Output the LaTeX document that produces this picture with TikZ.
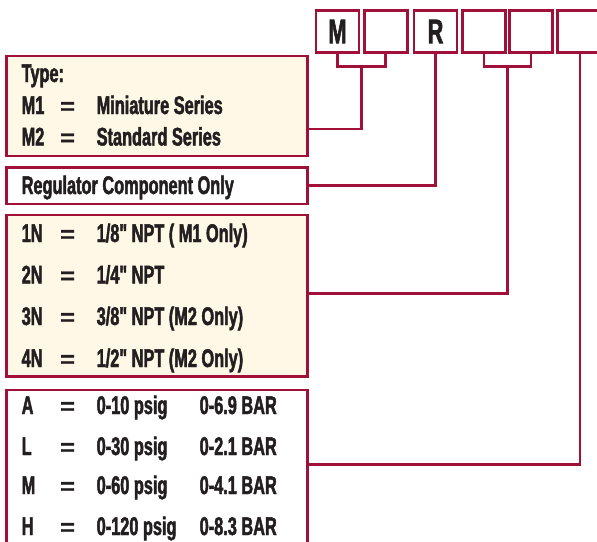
\documentclass[tikz,border=0pt]{standalone}
\usepackage{fontspec}
\setmainfont{Liberation Sans}[FakeStretch=0.64,FakeBold=1.8,Ligatures=TeXOff]
\newfontfamily\eqf{Liberation Sans}[FakeStretch=1.1,FakeBold=1.2]
\usetikzlibrary{calc}
\definecolor{crim}{RGB}{160,16,56}
\definecolor{cream}{RGB}{255,248,230}
\definecolor{ink}{RGB}{35,31,32}
\begin{document}
\begin{tikzpicture}[x=1pt,y=-1pt,
  frame/.style={draw=crim,line width=2.8pt,inner sep=0pt,outer sep=0pt,miter limit=10},
  code/.style={frame,minimum width=43pt,minimum height=42pt,fill=white,
    font=\fontsize{34}{34}\selectfont\bfseries,text=ink},
  info/.style={frame,anchor=north west},
  lbl/.style={anchor=base west,inner sep=0pt,font=\fontsize{25.5}{25.5}\selectfont\bfseries,text=ink},
  eq/.style={anchor=base west,inner sep=0pt,font=\eqf\fontsize{23}{23}\selectfont\bfseries,text=ink},
  wire/.style={draw=crim,line width=2.6pt}]
\clip (0,0) rectangle (597,541);
% top code boxes
\node[code] (M) at (337.5,31.5) {M};
\node[code] (b2) at (385.7,31.5) {};
\node[code] (R) at (435.5,31.5) {R};
\node[code] (b4) at (483.8,31.5) {};
\node[code] (b5) at (531,31.5) {};
\node[code,minimum width=45.5pt] (b6) at (580,31.5) {};
% info boxes
\node[info,fill=cream,minimum width=300.6pt,minimum height=100pt] (type) at (6.7,56) {};
\node[info,fill=white,minimum width=300.6pt,minimum height=36.7pt] (reg) at (6.7,167.3) {};
\node[info,fill=cream,minimum width=300.6pt,minimum height=161.7pt] (fit) at (6.7,215) {};
\node[info,fill=white,minimum width=300.6pt,minimum height=175pt] (press) at (6.7,390) {};
% connectors
\coordinate (j1) at ($(M.south)!0.5!(b2.south)+(0,14.2)$);
\coordinate (j2) at ($(b4.south)!0.5!(b5.south)+(0,14.2)$);
\coordinate (t1) at (type.east |- 0,129);
\coordinate (p1) at (press.east |- 0,464.3);
\coordinate (f1) at (fit.east |- 0,293.3);
\draw[wire] (M.south) |- (j1) -| (b2.south);
\draw[wire] (j1) |- (t1);
\draw[wire] (reg.east) -| (R.south);
\draw[wire] (b4.south) |- (j2) -| (b5.south);
\draw[wire] (j2) |- (f1);
\draw[wire] (p1) -| (b6.south);
% type box text
\node[lbl] (t0) at (21.5,82) {Type:};
\node[lbl] (t1a) at (21.5,114) {M1};
\node[eq] (t1b) at (60,114) {=};
\node[lbl] (t1c) at (96.5,114) {Miniature Series};
\node[lbl] (t2a) at (21.5,145.5) {M2};
\node[eq] (t2b) at (60,145.5) {=};
\node[lbl] (t2c) at (96.5,145.5) {Standard Series};
% regulator
\node[lbl] (r0) at (21.5,194) {Regulator Component Only};
% fittings
\node[lbl] (f1a) at (21.5,242) {1N};
\node[eq] (f1b) at (60,242) {=};
\node[lbl] (f1c) at (96.5,242) {1/8" NPT ( M1 Only)};
\node[lbl] (f2a) at (21.5,283.5) {2N};
\node[eq] (f2b) at (60,283.5) {=};
\node[lbl] (f2c) at (96.5,283.5) {1/4" NPT};
\node[lbl] (f3a) at (21.5,325) {3N};
\node[eq] (f3b) at (60,325) {=};
\node[lbl] (f3c) at (96.5,325) {3/8" NPT (M2 Only)};
\node[lbl] (f4a) at (21.5,367) {4N};
\node[eq] (f4b) at (60,367) {=};
\node[lbl] (f4c) at (96.5,367) {1/2" NPT (M2 Only)};
% pressure
\node[lbl] (p1a) at (21.5,414) {A};
\node[eq] (p1b) at (60,414) {=};
\node[lbl] (p1c) at (96.5,414) {0-10 psig};
\node[lbl] (p1d) at (199.5,414) {0-6.9 BAR};
\node[lbl] (p2a) at (21.5,455) {L};
\node[eq] (p2b) at (60,455) {=};
\node[lbl] (p2c) at (96.5,455) {0-30 psig};
\node[lbl] (p2d) at (199.5,455) {0-2.1 BAR};
\node[lbl] (p3a) at (21.5,494) {M};
\node[eq] (p3b) at (60,494) {=};
\node[lbl] (p3c) at (96.5,494) {0-60 psig};
\node[lbl] (p3d) at (199.5,494) {0-4.1 BAR};
\node[lbl] (p4a) at (21.5,535) {H};
\node[eq] (p4b) at (60,535) {=};
\node[lbl] (p4c) at (96.5,535) {0-120 psig};
\node[lbl] (p4d) at (199.5,535) {0-8.3 BAR};
\end{tikzpicture}
\end{document}
